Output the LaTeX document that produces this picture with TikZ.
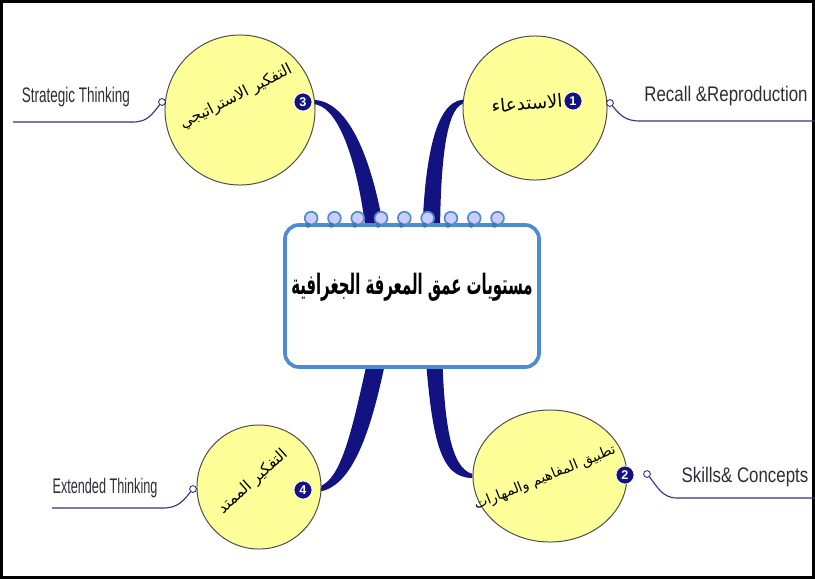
\documentclass[tikz,border=0pt]{standalone}
\usepackage{fontspec}
\usepackage{graphicx}
\setmainfont{Liberation Sans}
\newfontfamily\arabicfont[Script=Arabic]{DejaVu Sans}
\TeXXeTstate=1
\usetikzlibrary{calc,shapes.geometric,backgrounds}

\definecolor{branchblue}{RGB}{18,18,128}
\definecolor{paleyellow}{RGB}{255,255,153}
\definecolor{rimblue}{RGB}{78,140,208}
\definecolor{inkgray}{RGB}{45,45,55}

\begin{document}
\begin{tikzpicture}[
x=0.025cm, y=-0.025cm,
topic/.style={draw=rimblue, line width=2.6pt, rounded corners=0.35cm, fill=white, minimum width=6.35cm, minimum height=3.55cm},
level/.style={circle, draw=gray!60!black, fill=paleyellow, line width=0.7pt, minimum size=3.6cm},
arab/.style={font=\arabicfont\fontsize{11}{13}\selectfont, inner sep=0pt},
badge/.style={circle, fill=branchblue, draw=white, line width=0.5pt, text=white, font=\bfseries\fontsize{9}{9}\selectfont, inner sep=0pt, minimum size=0.45cm},
knot/.style={circle, draw=branchblue!80!gray, fill=white, line width=0.6pt, inner sep=0pt, minimum size=0.17cm},
leaf/.style={draw=branchblue!70!gray, line width=0.8pt},
branch/.style={fill=branchblue},
lab/.style={text=inkgray, font=\fontsize{15}{18}\selectfont, inner sep=0pt, anchor=base}
]
\useasboundingbox (0,0) rectangle (815,579);
\draw[line width=1.6pt] (1.5,1.5) rectangle (813.5,577.5);

% centre card
\node[topic] (map) at (412,296) {};
\foreach \k in {0,...,8} {
  \fill[blue!20, draw=rimblue, line width=1.2pt] ($(map.north west)+(28+23.3*\k,-5)$) circle (0.16cm);
  \fill[rimblue!85!black] ($(map.north west)+(25+23.3*\k,2)$) circle (0.065cm);
}
\node[font=\arabicfont\bfseries\fontsize{20}{24}\selectfont] (heading) at (412,287) {\scalebox{0.53}[1]{\beginR مستويات عمق المعرفة الجغرافية\endR}};

% the four levels
\node[level] (c1) at (535,108) {};
\node[level, minimum size=3.75cm] (c3) at (240,110) {};
\node[level, minimum size=3.1cm] (c4) at (259,487) {};
\node[level, ellipse, minimum width=3.85cm, minimum height=3.3cm] (c2) at (550,476) {};

\node[arab, font=\arabicfont\fontsize{13}{15}\selectfont, rotate=5] (t1) at (527,103) {\beginR الاستدعاء\endR};
\node[arab, rotate=27] (t3) at (236,97) {\beginR التفكير الاستراتيجي\endR};
\node[arab, rotate=42] (t4) at (253,482) {\beginR التفكير الممتد\endR};
\node[arab, font=\arabicfont\fontsize{10}{12}\selectfont, rotate=22] (t2) at (545,478) {\beginR تطبيق المفاهيم والمهارات\endR};

\node[badge] (n1) at (573,101) {1};
\node[badge] (n2) at (625,475) {2};
\node[badge] (n3) at (303,102) {3};
\node[badge] (n4) at (303,490) {4};

% branches behind everything
\begin{scope}[on background layer]
\fill[branch] ($(map.north)+(-45,20)$) .. controls (360,170) and (340,104) .. ($(n3.east)+(0,2)$)
  -- ($(n3.east)+(0,-2)$) .. controls (345,99) and (372,150) .. ($(map.north)+(-26,20)$) -- cycle;
\fill[branch] ($(map.north)+(10,20)$) .. controls (424,160) and (435,102) .. ($(c1.175)+(0,-2)$)
  -- ($(c1.175)+(0,2)$) .. controls (445,110) and (440,170) .. ($(map.north)+(28,20)$) -- cycle;
\fill[branch] ($(map.south)+(-42,-20)$) .. controls (350,440) and (340,487) .. ($(n4.east)+(0,-2)$)
  -- ($(n4.east)+(0,2)$) .. controls (352,494) and (372,430) .. ($(map.south)+(-24,-20)$) -- cycle;
\fill[branch] ($(map.south)+(13,-20)$) .. controls (432,440) and (440,478) .. ($(c2.west)+(0,2)$)
  -- ($(c2.west)+(0,-2)$) .. controls (450,468) and (444,420) .. ($(map.south)+(30,-20)$) -- cycle;
\end{scope}

% english leaves
\node[knot] (o1) at (610,103) {};
\node[knot] (o2) at (647,474) {};
\node[knot] (o3) at (162,102) {};
\node[knot] (o4) at (193,489) {};
\coordinate (u1) at (640,121); \coordinate (v1) at (815,121);
\coordinate (u2) at (677,498); \coordinate (v2) at (815,498);
\coordinate (u3) at (133,122); \coordinate (v3) at (13,122);
\coordinate (u4) at (163,508); \coordinate (v4) at (52,508);
\draw[leaf] (o1) .. controls +(10,12) and +(-15,0) .. (u1) -- (v1);
\draw[leaf] (o2) .. controls +(10,12) and +(-15,0) .. (u2) -- (v2);
\draw[leaf] (o3) .. controls +(-10,12) and +(15,0) .. (u3) -- (v3);
\draw[leaf] (o4) .. controls +(-10,12) and +(15,0) .. (u4) -- (v4);

\node[lab] (l1) at (726,101) {\scalebox{0.8}[1]{Recall \&Reproduction}};
\node[lab] (l2) at (745,482) {\scalebox{0.8}[1]{Skills\& Concepts}};
\node[lab] (l3) at (76,102) {\scalebox{0.64}[1]{Strategic Thinking}};
\node[lab] (l4) at (105,493) {\scalebox{0.6}[1]{Extended Thinking}};
\end{tikzpicture}
\end{document}
